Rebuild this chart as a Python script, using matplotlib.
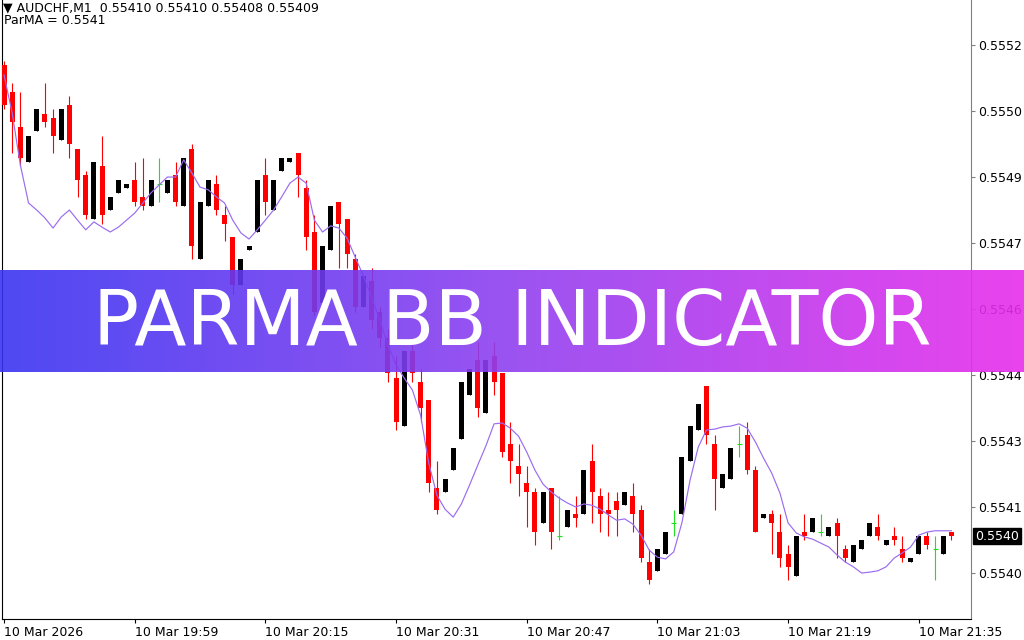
"""MT4-style AUDCHF M1 candles with the ParMA line and a title banner across the middle."""
import math

import numpy as np
import matplotlib
matplotlib.use("Agg")
import matplotlib.pyplot as plt
import matplotlib.transforms as mtransforms
from matplotlib.colors import LinearSegmentedColormap
from matplotlib.ticker import FixedLocator, FuncFormatter

symbol = "AUDCHF,M1"
title = "PARMA BB INDICATOR"

# OHLC per one-minute bar, first bar 19:43
opens = [
    0.55516, 0.55510, 0.55502, 0.55494, 0.55501, 0.55505, 0.55504, 0.55499, 0.55507, 0.55497,
    0.55491, 0.55481, 0.55493, 0.55483, 0.55487, 0.55488, 0.55490, 0.55486, 0.55484, 0.55489,
    0.55487, 0.55491, 0.55484, 0.55497, 0.55472, 0.55484, 0.55489, 0.55482, 0.55477, 0.55466,
    0.55474, 0.55478, 0.55491, 0.55483, 0.55492, 0.55494, 0.55496, 0.55488, 0.55478, 0.55462,
    0.55474, 0.55485, 0.55481, 0.55472, 0.55461, 0.55467, 0.55460, 0.55454, 0.55445, 0.55434,
    0.55451, 0.55444, 0.55440, 0.55420, 0.55419, 0.55424, 0.55431, 0.55441, 0.55449, 0.55437,
    0.55450, 0.55446, 0.55430, 0.55425, 0.55421, 0.55419, 0.55412, 0.55420, 0.55409, 0.55411,
    0.55414, 0.55414, 0.55426, 0.55418, 0.55415, 0.55417, 0.55416, 0.55418, 0.55415, 0.55403,
    0.55401, 0.55405, 0.55412, 0.55414, 0.55426, 0.55433, 0.55443, 0.55430, 0.55420, 0.55422,
    0.55430, 0.55432, 0.55424, 0.55413, 0.55414, 0.55410, 0.55405, 0.55400, 0.55410, 0.55410,
    0.55410, 0.55409, 0.55412, 0.55406, 0.55403, 0.55406, 0.55409, 0.55411, 0.55407, 0.55409,
    0.55406, 0.55403, 0.55405, 0.55409, 0.55406, 0.55405, 0.55410,
]
highs = [
    0.55517, 0.55512, 0.55510, 0.55500, 0.55506, 0.55512, 0.55506, 0.55506, 0.55509, 0.55497,
    0.55492, 0.55494, 0.55500, 0.55486, 0.55490, 0.55489, 0.55494, 0.55495, 0.55490, 0.55495,
    0.55490, 0.55494, 0.55495, 0.55498, 0.55485, 0.55490, 0.55491, 0.55484, 0.55477, 0.55472,
    0.55475, 0.55490, 0.55495, 0.55490, 0.55495, 0.55495, 0.55496, 0.55490, 0.55482, 0.55475,
    0.55484, 0.55485, 0.55481, 0.55473, 0.55468, 0.55470, 0.55461, 0.55456, 0.55450, 0.55451,
    0.55454, 0.55447, 0.55440, 0.55426, 0.55422, 0.55429, 0.55444, 0.55447, 0.55453, 0.55449,
    0.55453, 0.55446, 0.55435, 0.55430, 0.55425, 0.55420, 0.55419, 0.55420, 0.55418, 0.55415,
    0.55418, 0.55424, 0.55430, 0.55420, 0.55419, 0.55419, 0.55419, 0.55421, 0.55416, 0.55406,
    0.55406, 0.55410, 0.55415, 0.55427, 0.55434, 0.55439, 0.55443, 0.55432, 0.55423, 0.55429,
    0.55434, 0.55435, 0.55425, 0.55414, 0.55415, 0.55414, 0.55407, 0.55409, 0.55414, 0.55413,
    0.55414, 0.55411, 0.55413, 0.55407, 0.55407, 0.55408, 0.55412, 0.55414, 0.55408, 0.55411,
    0.55409, 0.55404, 0.55409, 0.55410, 0.55409, 0.55409, 0.55410,
]
lows = [
    0.55506, 0.55496, 0.55493, 0.55494, 0.55501, 0.55502, 0.55496, 0.55499, 0.55495, 0.55486,
    0.55481, 0.55481, 0.55480, 0.55483, 0.55487, 0.55488, 0.55484, 0.55483, 0.55484, 0.55485,
    0.55487, 0.55484, 0.55484, 0.55472, 0.55472, 0.55484, 0.55482, 0.55476, 0.55464, 0.55466,
    0.55474, 0.55478, 0.55482, 0.55483, 0.55492, 0.55494, 0.55486, 0.55474, 0.55459, 0.55462,
    0.55474, 0.55470, 0.55470, 0.55460, 0.55461, 0.55456, 0.55452, 0.55444, 0.55433, 0.55434,
    0.55444, 0.55435, 0.55419, 0.55414, 0.55419, 0.55424, 0.55431, 0.55441, 0.55436, 0.55437,
    0.55441, 0.55427, 0.55421, 0.55418, 0.55411, 0.55407, 0.55412, 0.55406, 0.55408, 0.55411,
    0.55411, 0.55414, 0.55412, 0.55410, 0.55409, 0.55409, 0.55416, 0.55410, 0.55403, 0.55398,
    0.55401, 0.55405, 0.55409, 0.55414, 0.55426, 0.55433, 0.55430, 0.55415, 0.55420, 0.55422,
    0.55427, 0.55423, 0.55410, 0.55413, 0.55405, 0.55402, 0.55399, 0.55400, 0.55408, 0.55410,
    0.55409, 0.55409, 0.55404, 0.55403, 0.55403, 0.55406, 0.55409, 0.55408, 0.55407, 0.55407,
    0.55403, 0.55403, 0.55405, 0.55406, 0.55399, 0.55405, 0.55408,
]
closes = [
    0.55507, 0.55503, 0.55495, 0.55500, 0.55506, 0.55503, 0.55500, 0.55506, 0.55498, 0.55490,
    0.55482, 0.55494, 0.55482, 0.55486, 0.55490, 0.55489, 0.55485, 0.55484, 0.55490, 0.55489,
    0.55490, 0.55485, 0.55495, 0.55475, 0.55485, 0.55490, 0.55483, 0.55480, 0.55466, 0.55472,
    0.55475, 0.55490, 0.55485, 0.55490, 0.55495, 0.55495, 0.55491, 0.55477, 0.55460, 0.55475,
    0.55484, 0.55480, 0.55473, 0.55461, 0.55468, 0.55458, 0.55454, 0.55446, 0.55435, 0.55451,
    0.55446, 0.55438, 0.55421, 0.55415, 0.55422, 0.55429, 0.55444, 0.55447, 0.55438, 0.55449,
    0.55444, 0.55428, 0.55426, 0.55423, 0.55419, 0.55410, 0.55419, 0.55410, 0.55409, 0.55415,
    0.55413, 0.55424, 0.55419, 0.55414, 0.55414, 0.55415, 0.55419, 0.55414, 0.55404, 0.55399,
    0.55406, 0.55410, 0.55412, 0.55427, 0.55434, 0.55439, 0.55432, 0.55422, 0.55423, 0.55429,
    0.55430, 0.55424, 0.55410, 0.55414, 0.55412, 0.55404, 0.55402, 0.55409, 0.55409, 0.55413,
    0.55410, 0.55411, 0.55409, 0.55404, 0.55407, 0.55408, 0.55412, 0.55409, 0.55408, 0.55408,
    0.55404, 0.55404, 0.55409, 0.55407, 0.55406, 0.55409, 0.55409,
]
# ParMA indicator value per bar
parma = [
    0.555138, 0.555051, 0.554933, 0.554847, 0.554831, 0.554813, 0.554790, 0.554815, 0.554831, 0.554808,
    0.554786, 0.554804, 0.554792, 0.554781, 0.554792, 0.554808, 0.554824, 0.554847, 0.554870, 0.554888,
    0.554906, 0.554906, 0.554945, 0.554915, 0.554883, 0.554877, 0.554861, 0.554847, 0.554808, 0.554779,
    0.554765, 0.554786, 0.554808, 0.554831, 0.554861, 0.554892, 0.554906, 0.554892, 0.554808, 0.554781,
    0.554795, 0.554790, 0.554767, 0.554724, 0.554681, 0.554633, 0.554581, 0.554524, 0.554479, 0.554449,
    0.554422, 0.554365, 0.554256, 0.554183, 0.554151, 0.554133, 0.554163, 0.554206, 0.554251, 0.554295,
    0.554345, 0.554347, 0.554335, 0.554317, 0.554281, 0.554240, 0.554208, 0.554190, 0.554176, 0.554165,
    0.554156, 0.554163, 0.554160, 0.554151, 0.554138, 0.554126, 0.554129, 0.554117, 0.554092, 0.554058,
    0.554042, 0.554038, 0.554054, 0.554120, 0.554217, 0.554292, 0.554331, 0.554333, 0.554338, 0.554340,
    0.554345, 0.554335, 0.554304, 0.554267, 0.554233, 0.554188, 0.554120, 0.554097, 0.554088, 0.554083,
    0.554074, 0.554065, 0.554047, 0.554031, 0.554020, 0.554006, 0.554008, 0.554011, 0.554020, 0.554040,
    0.554052, 0.554065, 0.554092, 0.554099, 0.554102, 0.554102, 0.554102,
]

first_bar = "19:43"
x_tick_times = ["19:43", "19:59", "20:15", "20:31", "20:47", "21:03", "21:19", "21:35"]
x_tick_labels = ["10 Mar 2026", "10 Mar 19:59", "10 Mar 20:15", "10 Mar 20:31",
                 "10 Mar 20:47", "10 Mar 21:03", "10 Mar 21:19", "10 Mar 21:35"]
y_ticks = [0.554006, 0.554156, 0.554306, 0.554456, 0.554606,
           0.554756, 0.554906, 0.555056, 0.555206]


def minutes(t):
    hh, mm = t.split(":")
    return int(hh) * 60 + int(mm)


def trunc4(v):
    # MT4 cuts the price to 4 digits instead of rounding
    return f"{math.floor(v * 1e4 + 1e-7) / 1e4:.4f}"


o, h, l, c = (np.array(a) for a in (opens, highs, lows, closes))
x = np.arange(len(o))
down = c < o
up = c > o
doji = c == o

RED, BLACK, GREEN = "#ff0000", "#000000", "#22dd22"

fig = plt.figure(figsize=(10.24, 6.4), dpi=100)
ax = fig.add_axes([2 / 1024, 21 / 640, 969 / 1024, 619 / 640])

w = 0.62
ax.vlines(x[down], l[down], h[down], color=RED, lw=0.8, zorder=2)
ax.bar(x[down], (o - c)[down], bottom=c[down], width=w, color=RED, lw=0, zorder=3)
ax.vlines(x[up], l[up], h[up], color=BLACK, lw=0.8, zorder=2)
ax.bar(x[up], (c - o)[up], bottom=o[up], width=w, color=BLACK, lw=0, zorder=3)
ax.vlines(x[doji], l[doji], h[doji], color=GREEN, lw=0.8, zorder=2)
ax.hlines(o[doji], x[doji] - w / 2, x[doji] + w / 2, color=GREEN, lw=0.8, zorder=3)

ax.plot(x, parma, color="#9a6cf0", lw=0.85, zorder=4)

ax.set_xlim(-0.25, 118.4)
ax.set_ylim(0.5539015, 0.5553083)

ax.spines["top"].set_visible(False)
ax.spines["left"].set_color("black")
ax.spines["bottom"].set_color("black")
ax.spines["right"].set_color("#808080")

ax.yaxis.tick_right()
ax.yaxis.set_major_locator(FixedLocator(y_ticks))
ax.yaxis.set_major_formatter(FuncFormatter(lambda v, _: trunc4(v)))
ax.tick_params(axis="y", direction="out", length=3, width=0.8, color="#808080",
               pad=2, labelsize=9, labelcolor="black")

x_ticks = [minutes(t) - minutes(first_bar) for t in x_tick_times]
ax.set_xticks(x_ticks)
ax.set_xticklabels(x_tick_labels)
ax.tick_params(axis="x", direction="out", length=3, width=0.8, color="black",
               pad=2, labelsize=9)
plt.setp(ax.get_xticklabels(), ha="left")

# current price box on the price scale
trans = mtransforms.blended_transform_factory(ax.transAxes, ax.transData)
ax.text(1.004, closes[-1], trunc4(closes[-1]), transform=trans, ha="left", va="center",
        color="white", fontsize=9, clip_on=False, zorder=10,
        bbox=dict(boxstyle="square,pad=0.15", fc="black", ec="black"))

# header in the top-left corner
fig.text(3 / 1024, 1 - 8 / 640,
         f"\u25bc {symbol}  {opens[-1]:.5f} {highs[-1]:.5f} {lows[-1]:.5f} {closes[-1]:.5f}",
         fontsize=9, va="center", ha="left")
fig.text(4 / 1024, 1 - 21 / 640, f"ParMA = {parma[-1]:.4f}", fontsize=9, va="center", ha="left")

# gradient banner over the chart
bax = fig.add_axes([0, 1 - 372 / 640, 1, 102 / 640], zorder=5)
bax.set_facecolor("none")
cmap = LinearSegmentedColormap.from_list("banner", ["#3a34f2", "#9040f0", "#e82eec"])
bax.imshow(np.linspace(0, 1, 256)[None, :], aspect="auto", cmap=cmap, alpha=0.9,
           extent=[0, 1, 0, 1])
bax.set_xlim(0, 1)
bax.set_ylim(0, 1)
bax.axis("off")
bax.text(0.5, (372 - 345) / 102, title, color="white", fontsize=55,
         ha="center", va="baseline")

fig.savefig("out.png", dpi=100)
